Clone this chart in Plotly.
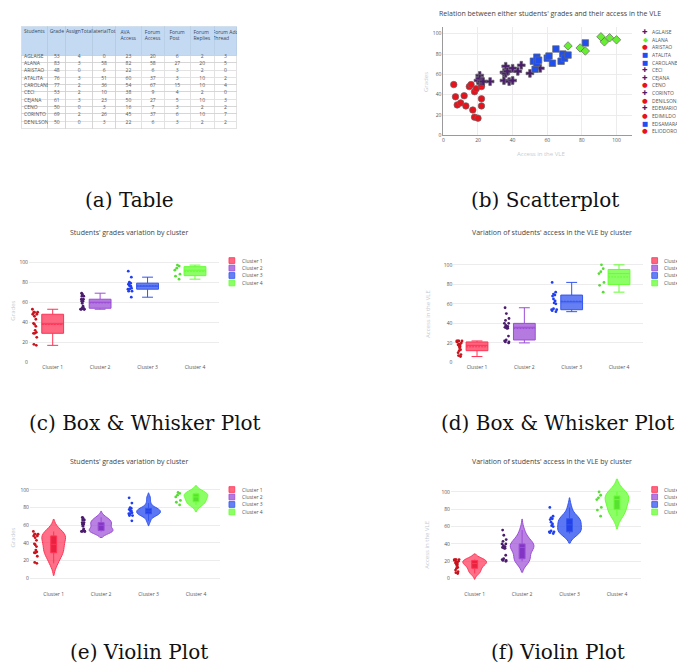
import plotly.graph_objects as go

W, H = 685, 669
OFF = 8  # page body margin
def X(px): return (px - OFF) / W
def Y(py): return 1 - (py - OFF) / H

# ---------------- data ----------------
table_header = ["Students", "Grade", "AssignTotal", "MaterialTotal", "AVA<br>Access",
                "Forum<br>Access", "Forum<br>Post", "Forum<br>Replies", "Forum Add<br>Thread"]
students = ["AGLAISE", "ALANA", "ARISTAO", "ATALITA", "CAROLANE", "CECI", "CEJANA", "CENO", "CORINTO", "DENILSON"]
grade = [53, 83, 48, 76, 77, 53, 61, 50, 69, 50]
assign_total = [4, 3, 0, 3, 2, 2, 3, 0, 2, 0]
material_total = [0, 58, 6, 51, 36, 10, 23, 3, 26, 3]
ava_access = [23, 82, 22, 60, 54, 38, 50, 16, 45, 22]
forum_access = [20, 58, 6, 37, 67, 9, 27, 7, 37, 6]
forum_post = [6, 27, 3, 3, 15, 4, 5, 3, 6, 3]
forum_replies = [2, 20, 2, 10, 10, 2, 10, 2, 10, 2]
forum_add_thread = [3, 5, 0, 2, 4, 0, 3, 2, 7, 2]

clusters = ["Cluster 1", "Cluster 2", "Cluster 3", "Cluster 4"]
c1_access = [6, 7, 8, 10, 12, 13, 15, 16, 17, 18, 18, 19, 20, 21, 22, 22, 22, 22]
c1_grade = [50, 38, 30, 32, 39, 29, 48, 50, 25, 18, 43, 46, 17, 53, 48, 50, 36, 29]
c2_access = [20, 21, 21, 22, 23, 27, 35, 35, 36, 36, 37, 38, 40, 40, 43, 45, 50, 56]
c2_grade = [54, 59, 56, 53, 53, 53, 62, 54, 68, 61, 63, 53, 66, 54, 63, 69, 61, 66]
c3_access = [52, 53, 54, 54, 55, 60, 61, 63, 65, 68, 69, 70, 72, 82]
c3_grade = [73, 65, 77, 71, 74, 76, 78, 71, 85, 73, 80, 76, 79, 91]
c4_access = [72, 79, 82, 91, 93, 96, 100]
c4_grade = [88, 86, 83, 97, 92, 96, 94]
cluster_access = [c1_access, c2_access, c3_access, c4_access]
cluster_grade = [c1_grade, c2_grade, c3_grade, c4_grade]

legend_students = ["AGLAISE", "ALANA", "ARISTAO", "ATALITA", "CAROLANE", "CECI", "CEJANA",
                   "CENO", "CORINTO", "DENILSON", "EDEMARIO", "EDIMILDO", "EDSAMARA", "ELIODORO"]
legend_cluster = [2, 4, 1, 3, 3, 2, 2, 1, 2, 1, 2, 1, 3, 1]

# ---------------- styles ----------------
scatter_color = ["#e8121c", "#4b1c6e", "#1f4ff0", "#66ee33"]
scatter_symbol = ["circle", "cross", "square", "diamond"]
legend_glyph = ["\u25CF", "\u271A", "\u25A0", "\u25C6"]
point_color = ["#c8141e", "#4b1c6e", "#1f3ff0", "#55dd33"]
line_color = ["#ff3355", "#9b4dd6", "#3355f0", "#66ff33"]
fill_color = ["rgba(255,51,85,0.75)", "rgba(155,77,214,0.75)", "rgba(51,85,240,0.75)", "rgba(102,255,51,0.75)"]
vfill_color = ["rgba(255,51,85,0.7)", "rgba(155,77,214,0.7)", "rgba(51,85,240,0.8)", "rgba(102,255,51,0.75)"]
vbox_fill = ["rgba(230,20,50,0.85)", "rgba(120,40,190,0.85)", "rgba(30,60,230,0.9)", "rgba(80,220,40,0.85)"]

TICK = dict(size=5, color="#555", family="Open Sans")
GRID = "#ececec"
NONE = "rgba(0,0,0,0)"

fig = go.Figure()

# ---------------- (a) table ----------------
col_w = [26, 18, 27, 23, 26, 23, 26, 24, 23]
body_values = [students, grade, assign_total, material_total, ava_access, forum_access,
               forum_post, forum_replies, forum_add_thread]
blank_header = ["\u00a0<br>\u00a0"] * len(col_w)   # keeps the same two-line header height
T_LEFT, T_RIGHT, T_TOP, T_BOT = 21, 237, 27, 137
TXT_SHIFT = 9.4    # plotly draws cell text below its row top; the body-text layer is lifted
HEAD_SHIFT = 6.0   # header-text layer lift
NAME_SHIFT = 6     # left-aligned text is padded; text layers start this much earlier
text_cols = [col_w[0] + NAME_SHIFT] + col_w[1:]
aligns = ["left"] + ["center"] * 8
# grid layer
fig.add_trace(go.Table(
    domain=dict(x=[X(T_LEFT), X(T_RIGHT)], y=[Y(T_BOT), Y(T_TOP)]),
    columnwidth=col_w,
    header=dict(values=blank_header, fill_color="#c4daf2", line=dict(color="#b4c9e0", width=0.6),
                font=dict(size=5, color=NONE, family="Open Sans"), height=26),
    cells=dict(values=[[""] * len(students) for _ in col_w],
               fill_color="white", line=dict(color="#cfcfcf", width=0.6), height=7.3),
))
# body text layer
fig.add_trace(go.Table(
    domain=dict(x=[X(T_LEFT - NAME_SHIFT), X(T_RIGHT)], y=[Y(T_BOT), Y(T_TOP - TXT_SHIFT)]),
    columnwidth=text_cols,
    header=dict(values=blank_header, fill_color=NONE, line=dict(color=NONE, width=0),
                font=dict(size=5, color=NONE, family="Open Sans"), height=26),
    cells=dict(values=body_values, fill_color=NONE, line=dict(color=NONE, width=0),
               align=aligns, font=dict(size=5, color="#555", family="Open Sans"), height=7.3),
))
# header text layer
fig.add_trace(go.Table(
    domain=dict(x=[X(T_LEFT - NAME_SHIFT), X(T_RIGHT)], y=[Y(T_TOP + 40), Y(T_TOP - HEAD_SHIFT)]),
    columnwidth=text_cols,
    header=dict(values=table_header, fill_color=NONE, line=dict(color=NONE, width=0),
                align=aligns, font=dict(size=5, color="#34465a", family="Open Sans"), height=26),
    cells=dict(values=[[] for _ in col_w], fill_color=NONE, line=dict(color=NONE, width=0)),
))

# ---------------- (b) scatter ----------------
for i in range(4):
    fig.add_trace(go.Scatter(
        x=cluster_access[i], y=cluster_grade[i], mode="markers", name=clusters[i],
        marker=dict(symbol=scatter_symbol[i], color=scatter_color[i], size=6.5,
                    line=dict(color="#666", width=0.7)),
        xaxis="x", yaxis="y", showlegend=False))

# ---------------- (c),(d) boxes; (e),(f) violins ----------------
for i in range(4):
    for vals, ax in [(cluster_grade[i], "2"), (cluster_access[i], "3")]:
        fig.add_trace(go.Box(
            x=[clusters[i]] * len(vals), y=vals, name=clusters[i],
            boxpoints="all", jitter=0.3, pointpos=-1.6, boxmean=True, width=0.46,
            marker=dict(color=point_color[i], size=2.8),
            line=dict(color=line_color[i], width=1), fillcolor=fill_color[i],
            xaxis="x" + ax, yaxis="y" + ax, showlegend=False))
    for vals, ax in [(cluster_grade[i], "4"), (cluster_access[i], "5")]:
        fig.add_trace(go.Violin(
            x=[clusters[i]] * len(vals), y=vals, name=clusters[i],
            points="all", jitter=0.25, pointpos=-1.5, width=0.5,
            box=dict(visible=True, width=0.25, fillcolor=vbox_fill[i],
                     line=dict(color=line_color[i], width=1)),
            meanline=dict(visible=False),
            marker=dict(color=point_color[i], size=2.8),
            line=dict(color=line_color[i], width=1), fillcolor=vfill_color[i],
            xaxis="x" + ax, yaxis="y" + ax, showlegend=False))

def cat_x(d, anchor):
    return dict(domain=[X(d[0]), X(d[1])], type="category", categoryorder="array",
                categoryarray=clusters, range=[-0.5, 3.5], showgrid=False, zeroline=False,
                tickfont=TICK, showline=False, ticks="", anchor=anchor)

def val_y(d, r, anchor):
    return dict(domain=[Y(d[1]), Y(d[0])], range=r, dtick=20, gridcolor=GRID, zeroline=False,
                showline=False, tickfont=TICK, ticks="", anchor=anchor)

layout_axes = dict(
    xaxis=dict(domain=[X(443), X(632)], range=[0, 109], dtick=20, gridcolor=GRID, zeroline=False,
               showline=True, linecolor="#9a9a9a", linewidth=1, tickfont=TICK, ticks="", anchor="y"),
    yaxis=dict(domain=[Y(136), Y(26.7)], range=[0, 107], dtick=20, gridcolor=GRID, zeroline=False,
               showline=True, linecolor="#9a9a9a", linewidth=1, tickfont=TICK, ticks="", anchor="x"),
    xaxis2=cat_x((28, 218), "y2"),
    yaxis2=val_y((255, 364.6), [-0.6, 108.2], "x2"),
    xaxis3=cat_x((453, 642.6), "y3"),
    yaxis3=val_y((255, 364.5), [-0.5, 111.2], "x3"),
    xaxis4=cat_x((29, 219), "y4"),
    yaxis4=val_y((480, 593), [-13.5, 113.5], "x4"),
    xaxis5=cat_x((450.6, 640.6), "y5"),
    yaxis5=val_y((480, 593), [-13.4, 116], "x5"),
)

ann = []
shapes = []
def text(px, py, s, size, color, family="Open Sans", angle=0, xanchor="center"):
    ann.append(dict(x=X(px), y=Y(py), xref="paper", yref="paper", text=s, showarrow=False,
                    textangle=angle, xanchor=xanchor, yanchor="middle", borderpad=0,
                    font=dict(size=size, color=color, family=family)))

# chart titles
text(550, 14, "Relation between either students' grades and their access in the VLE", 7, "#444")
text(128.3, 234, "Students' grades variation by cluster", 7, "#444")
text(551.7, 234, "Variation of students' access in the VLE by cluster", 7, "#444")
text(128.3, 463.3, "Students' grades variation by cluster", 7, "#444")
text(551.7, 463.3, "Variation of students' access in the VLE by cluster", 7, "#444")

# axis titles
AX = "#c5ccd4"
text(540.5, 155, "Access in the VLE", 6, AX)
text(425, 82, "Grades", 6, AX, angle=-90)
text(12, 312, "Grades", 6, AX, angle=-90)
text(427, 315, "Access in the VLE", 6, AX, angle=-90)
text(12, 540, "Grades", 6, AX, angle=-90)
text(427, 546.7, "Access in the VLE", 6, AX, angle=-90)

# scatter legend (students)
for k, (nm, cl) in enumerate(zip(legend_students, legend_cluster)):
    yy = 32 + 7.69 * k
    text(645, yy, legend_glyph[cl - 1], 6.5, scatter_color[cl - 1], family="DejaVu Sans")
    text(651, yy, nm, 5, "#555", xanchor="left")

# cluster legends
for (sx, tx, y0) in [(228.3, 240, 261.7), (651.7, 663.3, 261.7), (228.3, 240, 491.7), (651.7, 663.3, 491.7)]:
    for i, cname in enumerate(clusters):
        yy = y0 + 7.5 * i
        shapes.append(dict(type="rect", xref="paper", yref="paper",
                           x0=X(sx), x1=X(sx + 5.8), y0=Y(yy + 2.9), y1=Y(yy - 2.9),
                           fillcolor=fill_color[i], line=dict(color=line_color[i], width=0.8)))
        text(tx, yy, cname, 5, "#555", xanchor="left")

# captions
SERIF = "DejaVu Serif"
text(129, 201, "(a) Table", 20, "#111", family=SERIF)
text(545, 201, "(b) Scatterplot", 20, "#111", family=SERIF)
text(144, 425, "(c) Box &amp; Whisker Plot", 20, "#111", family=SERIF)
text(557, 425, "(d) Box &amp; Whisker Plot", 20, "#111", family=SERIF)
text(138.5, 655, "(e) Violin Plot", 20, "#111", family=SERIF)
text(558, 655, "(f) Violin Plot", 20, "#111", family=SERIF)

fig.update_layout(
    width=W, height=H, margin=dict(l=0, r=0, t=0, b=0),
    paper_bgcolor="white", plot_bgcolor="white", showlegend=False,
    font=dict(family="Open Sans", color="#444"),
    annotations=ann, shapes=shapes, **layout_axes,
)

fig.write_html("out.html")
